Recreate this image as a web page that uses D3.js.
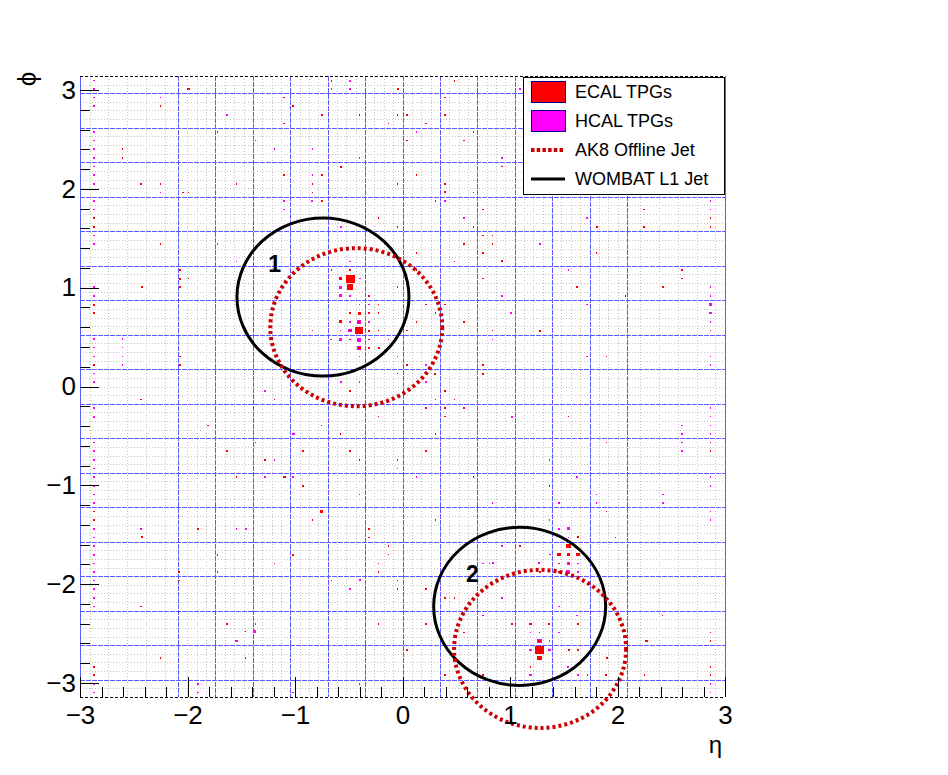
<!DOCTYPE html>
<html>
<head>
<meta charset="utf-8">
<script src="https://cdn.jsdelivr.net/npm/d3@7"></script>
<style>
  html, body { margin: 0; padding: 0; background: #fff; }
  svg { display: block; font-family: "Liberation Sans", Arial, Helvetica, sans-serif; }
</style>
</head>
<body>
<svg id="chart" width="948" height="775"></svg>
<script>
// ---------------- DATA ----------------
// ECAL trigger primitives: [eta, phi, Et]
const ecalTPGs = [
  [-1.99,3.011,8],[-2.25,2.836,4],[-1.105,2.924,6],[-1.016,2.836,4],[-1.105,2.662,6],[-1.722,2.574,4],
  [-2.606,2.40,4],[-2.606,2.313,4],[-1.105,2.138,8],[-2.43,2.051,4],[-2.25,2.051,6],[-1.546,2.051,4],
  [-2.04,1.964,4],[-1.99,1.964,6],[-2.87,1.702,4],[-2.87,1.614,4],[-2.25,1.44,4],[-2.07,1.178,8],
  [-2.07,1.091,8],[-1.99,1.091,5],[-2.07,1.004,8],[-2.424,1.004,8],[-2.87,0.829,8],[-2.87,0.742,8],
  [-2.07,0.305,4],[-2.87,0.218,4],[-2.07,0.218,8],
  [-0.662,3.094,4],[-0.042,3.011,8],[0.482,3.094,4],[0.395,2.924,5],[-0.749,2.749,8],[-0.401,2.749,4],
  [-0.048,2.749,4],[0.042,2.749,8],[0.395,2.749,4],[-0.132,2.662,4],[0.219,2.662,6],[0.659,2.574,4],
  [0.042,2.487,5],[0.572,2.487,5],[-0.575,2.225,8],[0.926,2.225,4],[-0.749,2.138,4],[0.129,2.138,6],
  [-0.839,2.051,4],[-0.048,2.051,4],[0.395,2.051,4],[-0.839,1.964,4],[0.395,1.964,8],[0.659,1.964,4],
  [-0.749,1.876,4],[0.306,1.876,6],[0.749,1.789,6],[-0.222,1.702,4],[-0.048,1.614,4],[0.659,1.614,6],
  [0.749,1.527,4],[0.837,1.527,4],[0.572,1.44,8],[0.837,1.44,4],[0.749,1.353,5],[0.129,1.353,4],
  [0.926,1.265,8],[0.482,1.265,4],[0.129,1.178,4],[0.749,1.091,5],[0.838,0.565,4],[0.749,0.218,5],
  [0.749,0.131,8],[0.572,0.654,5],[0.395,0.829,4],[0.219,0.829,5],[0.306,0.742,6],[0.306,0.131,8],
  [0.042,0.218,5],[-0.048,1.004,4],[-0.132,0.474,5],
  [-0.488,1.178,10],[-0.482,1.091,32],[-0.488,1.004,23],[-0.575,1.091,11],[-0.312,0.916,8],[-0.222,0.829,4],
  [-0.488,0.742,4],[-0.401,0.742,12],[-0.312,0.742,4],[-0.575,0.654,11],[-0.401,0.654,8],[-0.488,0.565,5],
  [-0.401,0.565,29],[-0.312,0.565,8],[-0.488,0.474,4],[-0.312,0.474,4],[-0.401,0.393,9],[-0.312,0.393,8],
  [-0.222,0.393,8],[-0.66,1.178,4],[-0.222,0.742,4],[-0.222,0.565,4],[0.042,0.565,4],[0.129,0.654,4],
  [-0.048,0.131,4],
  [2.247,1.789,6],[2.864,1.702,4],[1.81,1.614,8],[2.247,1.614,6],[2.864,1.614,4],[1.806,1.353,4],
  [2.6,1.178,6],[2.6,1.091,5],[1.626,1.004,4],[2.423,1.004,8],[2.073,0.916,4],[1.279,0.565,8],[1.896,0.305,4],
  [1.543,-0.305,4],[2.864,-0.567,4],[1.896,-0.567,4],[2.864,-0.654,4],[1.366,-1.004,4],[1.896,-1.265,4],
  [1.98,-1.527,4],[1.633,-1.527,8],[1.093,-1.614,6],[1.366,-1.70,4],[1.456,-1.70,13],[1.543,-1.70,13],
  [1.633,-1.70,12],[1.456,-1.789,5],[1.456,-1.876,8],[1.543,-1.614,16],[0.81,-1.789,4],[1.543,-1.789,6],
  [1.19,-2.403,9],[1.366,-2.403,8],[1.633,-2.403,4],[1.276,-2.575,11],[1.276,-2.666,33],[1.276,-2.747,16],
  [1.19,-2.836,4],[1.72,-2.92,5],[1.896,-2.92,8],[1.90,-2.747,4],[2.27,-2.575,8],[2.42,-2.315,5],
  [2.864,-2.49,4],[2.864,-2.575,4],[2.864,-2.836,4],[2.864,-2.92,4],[2.25,-2.92,5],[1.276,-2.49,4],
  [1.55,-2.666,4],[1.633,-2.666,4],[1.28,-1.876,4],[1.017,-2.403,4],
  [-0.488,-0.044,4],[0.395,-0.044,5],[0.306,-0.131,4],[0.482,-0.131,4],[0.219,-0.218,5],[0.395,-0.218,4],
  [0.572,-0.218,5],[0.395,-0.305,4],[-0.222,-0.305,4],[-0.755,-0.393,4],[-0.578,-0.48,4],[0.306,-0.48,6],
  [-0.928,-0.654,5],[-0.488,-0.654,4],[0.219,-0.654,5],[-0.401,-0.742,4],[-0.048,-0.742,4],[0.659,-0.916,4],
  [-0.928,-1.004,8],[-0.401,-1.091,4],[-0.755,-1.265,9],[-0.839,-1.353,4],[0.306,-1.353,4],[-0.309,-1.44,4],
  [-0.309,-1.527,4],[-0.132,-1.614,4],[-0.132,-1.70,4],[-0.222,-1.789,4],[-0.222,-1.876,4],[-0.048,-1.961,4],
  [-0.048,-2.05,4],[0.219,-2.05,5],[0.395,-2.14,8],[0.482,-2.14,4],[0.219,-2.403,5],[-0.222,-2.403,4],
  [0.572,-2.49,4],[0.042,-2.666,5],[0.395,-2.92,4],[0.749,-2.92,4],[-0.401,-3.011,4],
  [-2.87,-1.265,4],[-2.87,-1.353,4],[-2.87,-2.836,4],[-2.87,-2.92,4],[-1.192,-0.131,4],[-2.43,-0.131,4],
  [-1.81,-0.393,5],[-1.369,-0.567,4],[-1.633,-0.654,5],[-1.282,-0.742,6],[-1.546,-0.916,4],[-1.102,-0.916,11],
  [-1.902,-1.44,4],[-2.424,-1.527,8],[-1.722,-1.702,4],[-1.016,-1.702,4],[-1.192,-1.789,4],[-2.079,-1.876,4],
  [-1.722,-1.876,4],[-2.079,-1.961,4],[-2.43,-2.225,4],[-1.633,-2.403,6],[-1.459,-2.48,6],[-2.253,-2.747,4],
  [-1.459,-2.747,6]
];

// HCAL trigger primitives: [eta, phi, Et]
const hcalTPGs = [
  [-2.87,3.098,4],[-2.87,3.011,4],[-2.87,2.924,5],[-2.25,2.924,4],[-2.87,2.836,8],[-1.633,2.749,5],
  [-2.87,2.574,4],[-2.87,2.487,4],[-1.369,2.487,4],[-2.87,2.40,8],[-1.192,2.40,4],[-2.87,2.313,8],
  [-2.87,2.225,4],[-2.87,2.138,4],[-2.87,2.051,4],[-2.25,1.964,4],[-1.105,1.876,6],[-1.105,1.789,6],
  [-2.87,1.876,4],[-2.87,1.789,4],[-2.87,1.527,4],[-2.87,1.44,4],[-1.722,1.44,4],[-1.546,1.265,4],
  [-2.87,1.004,4],[-2.87,0.916,4],[-2.87,0.480,4],[-2.606,0.480,4],[-2.87,0.393,4],[-2.606,0.393,4],
  [-2.87,0.305,6],[-2.606,0.305,4],[-2.606,0.218,4],[-2.87,0.131,6],[-2.87,0.044,6],
  [-0.491,3.094,6],[-0.662,3.011,6],[-0.488,3.011,4],[0.129,2.574,5],[-0.839,2.40,4],[-0.401,2.313,4],
  [0.926,2.313,5],[-0.839,2.138,4],[-0.839,1.876,6],[0.395,1.876,6],[0.572,1.702,6],[-0.575,1.614,6],
  [-0.488,1.265,4],[0.926,0.916,6],[1.006,0.742,7],[0.838,0.474,4],[0.219,0.044,4],[-0.048,0.305,6],
  [-0.839,0.565,4],[-0.665,0.474,4],[-0.575,0.044,6],[-0.401,0.044,6],[1.093,3.011,5],[0.219,0.218,6],
  [-0.575,1.004,10],[-0.395,1.091,4],[-0.575,0.916,12],[-0.488,0.916,10],[-0.401,0.829,4],[-0.312,0.829,6],
  [-0.488,0.654,5],[-0.401,0.654,15],[-0.312,0.654,10],[-0.575,0.565,4],[-0.488,0.565,12],[-0.575,0.474,12],
  [-0.401,0.474,15],[-0.401,0.393,15],[-0.401,0.305,6],
  [2.864,1.876,4],[2.864,1.789,4],[1.719,1.702,4],[1.279,1.44,8],[1.543,1.178,4],[2.864,1.004,4],
  [2.864,0.916,4],[1.719,0.829,4],[2.864,0.829,9],[2.864,0.742,9],[2.864,0.654,4],[2.864,0.565,4],
  [1.719,0.305,4],[2.864,0.305,4],[2.864,0.218,4],
  [1.016,-0.305,7],[2.864,-0.218,4],[2.864,-0.305,4],[2.6,-0.393,6],[2.864,-0.393,4],[2.6,-0.48,5],
  [2.864,-0.48,4],[2.6,-0.567,6],[2.6,-0.654,6],[1.366,-0.742,4],[2.864,-0.916,4],[1.626,-0.916,4],
  [2.864,-1.004,4],[1.806,-1.091,4],[2.423,-1.091,5],[1.806,-1.178,4],[2.423,-1.178,5],[1.456,-1.178,7],
  [2.864,-1.265,4],[2.864,-1.353,4],[1.366,-1.353,4],[1.456,-1.44,7],[1.543,-1.44,12],[1.543,-1.527,6],
  [1.27,-1.789,8],[1.543,-1.789,11],[1.543,-1.876,14],[1.633,-1.876,6],[1.633,-1.789,4],[1.37,-1.70,4],
  [1.456,-2.225,7],[1.626,-2.315,4],[1.456,-2.49,5],[1.366,-2.575,4],[1.19,-2.49,4],[1.276,-2.575,19],
  [1.19,-2.666,10],[1.366,-2.666,10],[1.19,-2.92,8],[1.633,-2.92,8],[1.54,-2.836,4],[2.864,-3.011,4],
  [2.864,-3.098,4],
  [-1.012,-0.48,9],[-0.048,-0.829,4],[0.129,-0.916,4],[0.838,-1.178,4],[0.926,-1.614,5],[0.749,-1.789,5],
  [0.838,-1.789,7],[-0.662,-1.961,4],[-0.395,-1.961,7],[-0.488,-2.05,4],[0.926,-2.14,7],[0.749,-2.315,5],
  [-2.87,-0.218,5],[-2.87,-0.305,7],[-2.87,-0.567,7],[-2.87,-0.654,5],[-2.87,-0.742,4],[-2.87,-0.829,4],
  [-2.87,-0.916,5],[-2.87,-1.004,6],[-2.87,-1.091,4],[-2.87,-1.178,4],[-2.87,-1.44,4],[-2.87,-1.527,4],
  [-2.87,-1.614,4],[-2.87,-1.702,4],[-2.87,-1.789,4],[-2.87,-1.876,4],[-2.87,-1.961,4],[-2.87,-2.05,4],
  [-2.87,-2.14,4],[-2.87,-2.225,4],[-2.87,-3.011,4],[-2.87,-3.098,4],
  [-1.282,-0.044,6],[-1.192,-0.742,4],[-1.282,-0.916,6],[-1.016,-0.916,4],[-2.43,-1.44,4],[-1.546,-1.44,4],
  [-1.456,-1.44,7],[-1.369,-2.403,4],[-1.372,-2.48,10],[-1.546,-2.575,9],[-1.902,-3.011,6],[-1.902,-3.098,4],
  [-1.016,-3.098,4]
];

// Jets: centres in (eta, phi), cone radius 0.8
const ak8Jets    = [[-0.43, 0.60], [1.28, -2.655]];
const wombatJets = [[-0.74, 0.905], [1.09, -2.225]];
const jetRadius  = 0.8;
const jetLabels  = [["1", -1.19, 1.24], ["2", 0.65, -1.89]];

// Axes
const etaRange = [-3, 3];
const phiRange = [-Math.PI, Math.PI];
const etaTicks = [-3, -2, -1, 0, 1, 2, 3];
const phiTicks = [-3, -2, -1, 0, 1, 2, 3];
const towerSize = 0.087;            // eta tower width
const phiTower = Math.PI / 36;      // phi tower width
const hfGridEdges = [2.21, 2.39, 2.565, 2.736, 2.907];
const legendLabels = ["ECAL TPGs", "HCAL TPGs", "AK8 Offline Jet", "WOMBAT L1 Jet"];

// ---------------- DRAW ----------------
const svg = d3.select("#chart");
const L = 80, R = 725, T = 76, B = 697;
const x = d3.scaleLinear().domain(etaRange).range([L, R]);
const y = d3.scaleLinear().domain(phiRange).range([B, T]);
const px = v => Math.round(v) + 0.5;

svg.append("rect").attr("width", 948).attr("height", 775).attr("fill", "#fff");

// Fine grid (towers)
const grid = svg.append("g").attr("shape-rendering", "crispEdges");
const fineEta = [];
for (let k = -23; k <= 23; k++) if (k % 4 !== 0) fineEta.push(k * towerSize);
hfGridEdges.forEach(e => { fineEta.push(e); fineEta.push(-e); });
const finePhi = [];
for (let n = -35; n <= 35; n++) if (((n % 4) + 4) % 4 !== 2) finePhi.push(n * phiTower);
grid.selectAll(".fv").data(fineEta).join("line")
  .attr("x1", d => px(x(d))).attr("x2", d => px(x(d))).attr("y1", T).attr("y2", B)
  .attr("stroke", "#c4c4c4").attr("stroke-width", 1).attr("stroke-dasharray", "1,2");
grid.selectAll(".fh").data(finePhi).join("line")
  .attr("x1", L).attr("x2", R).attr("y1", d => px(y(d))).attr("y2", d => px(y(d)))
  .attr("stroke", "#c4c4c4").attr("stroke-width", 1).attr("stroke-dasharray", "1,2");

// Region grid (4x4 towers)
const regEta = [];
for (let k = -24; k <= 24; k += 4) regEta.push(k * towerSize);
const regPhi = [];
for (let n = -34; n <= 34; n += 4) regPhi.push(n * phiTower);
grid.selectAll(".rv").data(regEta).join("line")
  .attr("x1", d => px(x(d))).attr("x2", d => px(x(d))).attr("y1", T).attr("y2", B)
  .attr("stroke", "#5a5aff").attr("stroke-width", 1).attr("stroke-dasharray", "5,1");
grid.selectAll(".rh").data(regPhi).join("line")
  .attr("x1", L).attr("x2", R).attr("y1", d => px(y(d))).attr("y2", d => px(y(d)))
  .attr("stroke", "#5a5aff").attr("stroke-width", 1).attr("stroke-dasharray", "5,1");

// Frame
grid.selectAll(".fr").data(etaRange).join("line")
  .attr("x1", d => px(x(d))).attr("x2", d => px(x(d))).attr("y1", T).attr("y2", B)
  .attr("stroke", "#5a5aff").attr("stroke-width", 1);
grid.selectAll(".ft").data(phiRange).join("line")
  .attr("x1", L).attr("x2", R).attr("y1", d => px(y(d))).attr("y2", d => px(y(d)))
  .attr("stroke", "#000").attr("stroke-width", 1).attr("stroke-dasharray", "3,2");

// TPG boxes
const cellW = x(towerSize) - x(0);
const cellH = y(0) - y(phiTower);
const frac = d3.scaleLinear().domain([0, 34]).range([0, 1]).clamp(true);
function drawBoxes(data, color) {
  const w = d => Math.max(1.6, cellW * frac(d[2]));
  const h = d => Math.max(1.6, cellH * frac(d[2]));
  svg.append("g").selectAll("rect").data(data).join("rect")
    .attr("x", d => x(d[0]) - w(d) / 2)
    .attr("y", d => y(d[1]) - h(d) / 2)
    .attr("width", w)
    .attr("height", h)
    .attr("fill", color)
    .attr("shape-rendering", "crispEdges");
}
drawBoxes(hcalTPGs, "#ff00ff");
drawBoxes(ecalTPGs, "#ff0000");

// Jets
const rx = x(jetRadius) - x(0);
const ry = y(0) - y(jetRadius);
svg.append("g").selectAll("ellipse").data(wombatJets).join("ellipse")
  .attr("cx", d => x(d[0])).attr("cy", d => y(d[1])).attr("rx", rx).attr("ry", ry)
  .attr("fill", "none").attr("stroke", "#000").attr("stroke-width", 3);
svg.append("g").selectAll("ellipse").data(ak8Jets).join("ellipse")
  .attr("cx", d => x(d[0])).attr("cy", d => y(d[1])).attr("rx", rx).attr("ry", ry)
  .attr("fill", "none").attr("stroke", "#cc0000").attr("stroke-width", 4).attr("stroke-dasharray", "3,3");
svg.append("g").selectAll("text").data(jetLabels).join("text")
  .attr("x", d => x(d[1])).attr("y", d => y(d[2])).attr("dy", "0.36em")
  .attr("text-anchor", "middle").attr("font-size", 23).attr("font-weight", "bold").text(d => d[0]);

// Axes (ROOT-style ticks pointing inward)
const minorEta = d3.range(-3, 3.0001, 0.2);
const minorPhi = d3.range(-3, 3.0001, 0.2);
const fmt = d => d < 0 ? "\u2212" + Math.abs(d) : String(d);
const axB = svg.append("g").attr("transform", `translate(0,${B})`)
  .call(d3.axisBottom(x).tickValues(minorEta).tickSize(-10).tickFormat(""));
const axB2 = svg.append("g").attr("transform", `translate(0,${B})`)
  .call(d3.axisBottom(x).tickValues(etaTicks).tickSize(-20).tickPadding(9).tickFormat(fmt));
const axL = svg.append("g").attr("transform", `translate(${L},0)`)
  .call(d3.axisLeft(y).tickValues(minorPhi).tickSize(-10).tickFormat(""));
const axL2 = svg.append("g").attr("transform", `translate(${L},0)`)
  .call(d3.axisLeft(y).tickValues(phiTicks).tickSize(-19).tickPadding(4).tickFormat(fmt));
[axB, axB2, axL, axL2].forEach(a => {
  a.select(".domain").remove();
  a.selectAll("line").attr("stroke", "#000").attr("stroke-width", 1).attr("shape-rendering", "crispEdges");
  a.selectAll("text").attr("font-size", 26).attr("fill", "#000")
    .attr("font-family", "'Liberation Sans', Arial, sans-serif");
});

// Axis titles
svg.append("text").attr("x", 722).attr("y", 753).attr("text-anchor", "end")
  .attr("font-size", 24).text("\u03B7");
svg.append("text").attr("transform", "translate(36,79) rotate(-90)")
  .attr("text-anchor", "middle").attr("font-size", 26).text("\u03D5");

// Legend
const lg = svg.append("g");
lg.append("rect").attr("x", 523.5).attr("y", 77.5).attr("width", 201).attr("height", 117)
  .attr("fill", "#fff").attr("stroke", "#000").attr("stroke-width", 1);
const rowY = d3.scalePoint().domain(legendLabels).range([92, 179]);
lg.append("rect").attr("x", 531.5).attr("y", rowY(legendLabels[0]) - 10.5).attr("width", 34).attr("height", 21)
  .attr("fill", "#ff0000").attr("stroke", "#00009a").attr("stroke-width", 1);
lg.append("rect").attr("x", 531.5).attr("y", rowY(legendLabels[1]) - 10.5).attr("width", 34).attr("height", 21)
  .attr("fill", "#ff00ff").attr("stroke", "#00009a").attr("stroke-width", 1);
lg.append("line").attr("x1", 531).attr("x2", 565).attr("y1", rowY(legendLabels[2])).attr("y2", rowY(legendLabels[2]))
  .attr("stroke", "#cc0000").attr("stroke-width", 4).attr("stroke-dasharray", "3.5,2.2");
lg.append("line").attr("x1", 531).attr("x2", 565).attr("y1", rowY(legendLabels[3])).attr("y2", rowY(legendLabels[3]))
  .attr("stroke", "#000").attr("stroke-width", 3);
lg.selectAll("text").data(legendLabels).join("text")
  .attr("x", 575).attr("y", d => rowY(d)).attr("dy", "0.36em")
  .attr("font-size", 18).text(d => d);
</script>
</body>
</html>
